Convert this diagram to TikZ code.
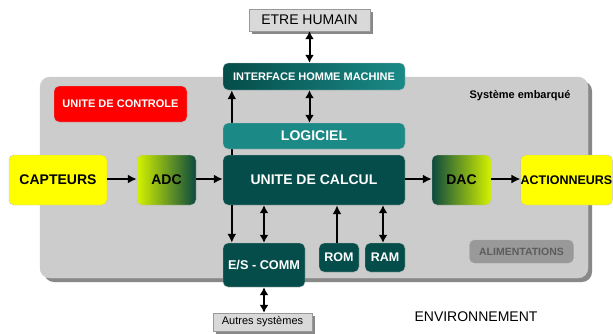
\documentclass[tikz,border=0pt]{standalone}
\usepackage{fontspec}
\setmainfont{Liberation Sans}
\usetikzlibrary{arrows.meta,shadows}
\definecolor{sysgrey}{HTML}{CCCCCC}
\definecolor{shgrey}{HTML}{888888}
\definecolor{tealdark}{HTML}{044D4A}
\definecolor{teallight}{HTML}{1B8A87}
\definecolor{yel}{HTML}{FFFF00}
\definecolor{yelgreen}{HTML}{D4F200}
\definecolor{darkgreen}{HTML}{0B4A3E}
\definecolor{alimfill}{HTML}{999999}
\definecolor{alimtext}{HTML}{5C5C5C}
\definecolor{ehfill}{HTML}{D9D9D9}
\begin{document}
\begin{tikzpicture}[x=1pt,y=-1pt,
  blk/.style={rounded corners=5pt, inner sep=0pt, align=center, draw=black!25, line width=0.4pt},
  bigtxt/.style={font=\bfseries\fontsize{14}{16}\selectfont},
  midtxt/.style={font=\bfseries\fontsize{11}{13}\selectfont},
  dark/.style={blk, fill=tealdark, text=white},
  yelbox/.style={blk, fill=yel, text=black, bigtxt},
  plain/.style={inner sep=0pt, fill=ehfill, draw=black!40, line width=0.4pt,
     drop shadow={shadow xshift=2.5pt, shadow yshift=-2.5pt, fill=shgrey, opacity=1}},
  arr/.style={line width=2pt, -{Latex[length=9pt,width=9pt]}},
  dbl/.style={line width=2pt, {Latex[length=8pt,width=9pt]}-{Latex[length=8pt,width=9pt]}}
]
\useasboundingbox (0,0) rectangle (613,333);

% embedded system frame
\node[rounded corners=10pt, fill=sysgrey, draw=black!20, minimum width=548pt, minimum height=201pt, inner sep=0pt,
  drop shadow={shadow xshift=4pt, shadow yshift=-4pt, fill=shgrey, opacity=1}] (sys) at (314,177.5) {};
\node[font=\bfseries\fontsize{11}{13}\selectfont] (syslbl) at (520,96) {Système embarqué};

\node[plain, minimum width=121pt, minimum height=22pt, font=\fontsize{14}{16}\selectfont] (etre) at (309.5,20) {ETRE HUMAIN};
\node[blk, left color=tealdark, right color=teallight, text=white, midtxt, minimum width=182pt, minimum height=27pt] (ihm) at (314,76.5) {INTERFACE HOMME MACHINE};
\node[blk, fill=red, text=white, midtxt, minimum width=133pt, minimum height=36pt] (uctrl) at (120.5,104) {UNITE DE CONTROLE};

\node[yelbox, minimum width=98pt, minimum height=50pt] (capt) at (58,180) {CAPTEURS};
\node[blk, left color=yelgreen, right color=darkgreen, bigtxt, minimum width=59pt, minimum height=50pt] (adc) at (166.5,180) {ADC};
\node[dark, bigtxt, minimum width=182pt, minimum height=50pt] (uc) at (314,180) {UNITE DE CALCUL};
\node[blk, left color=darkgreen, right color=yelgreen, bigtxt, minimum width=59pt, minimum height=50pt] (dac) at (461.5,180) {DAC};
\node[yelbox, font=\bfseries\fontsize{12.5}{14}\selectfont, minimum width=91pt, minimum height=50pt] (act) at (566.5,180) {ACTIONNEURS};

% arrow behind LOGICIEL
\draw[arr] ([xshift=9pt]uc.north west) -- ([xshift=9pt]ihm.south west);
\node[blk, fill=teallight, text=white, bigtxt, minimum width=182pt, minimum height=26pt] (logi) at (314,136) {LOGICIEL};

\node[dark, font=\bfseries\fontsize{12.7}{14}\selectfont, minimum width=82pt, minimum height=44pt] (es) at (264,265) {E/S - COMM};
\node[dark, font=\bfseries\fontsize{12.5}{14}\selectfont, minimum width=40pt, minimum height=29pt] (rom) at (339,257.5) {ROM};
\node[dark, font=\bfseries\fontsize{12.5}{14}\selectfont, minimum width=40pt, minimum height=29pt] (ram) at (385,257.5) {RAM};
\node[blk, fill=alimfill, draw=black!35, text=alimtext, font=\bfseries\fontsize{10.5}{12}\selectfont, minimum width=104pt, minimum height=23pt] (alim) at (521.5,251.5) {ALIMENTATIONS};

\node[plain, minimum width=99pt, minimum height=18pt, font=\fontsize{11}{13}\selectfont] (autres) at (262.5,322) {Autres systèmes};
\node[font=\fontsize{14}{16}\selectfont] (env) at (476,317) {ENVIRONNEMENT};

% connectors
\draw[dbl] (etre.south) -- (etre.south |- ihm.north);
\draw[dbl] (etre.south |- ihm.south) -- (etre.south |- logi.north);
\draw[arr] ([yshift=1pt]capt.east) -- ([yshift=1pt]adc.west);
\draw[arr] ([yshift=1pt]adc.east) -- ([yshift=1pt]uc.west);
\draw[arr] ([yshift=1pt]uc.east) -- ([yshift=1pt]dac.west);
\draw[arr] ([yshift=1pt]dac.east) -- ([yshift=1pt]act.west);
\draw[arr] ([xshift=9pt]uc.south west) -- ([xshift=9pt]es.north west);
\draw[dbl] (es.north |- uc.south) -- (es.north);
\draw[arr] ([xshift=-2pt]rom.north) -- ([xshift=-2pt]rom.north |- uc.south);
\draw[dbl] ([xshift=-2pt]ram.north |- uc.south) -- ([xshift=-2pt]ram.north);
\draw[dbl] (es.south) -- (es.south |- autres.north);
\end{tikzpicture}
\end{document}
